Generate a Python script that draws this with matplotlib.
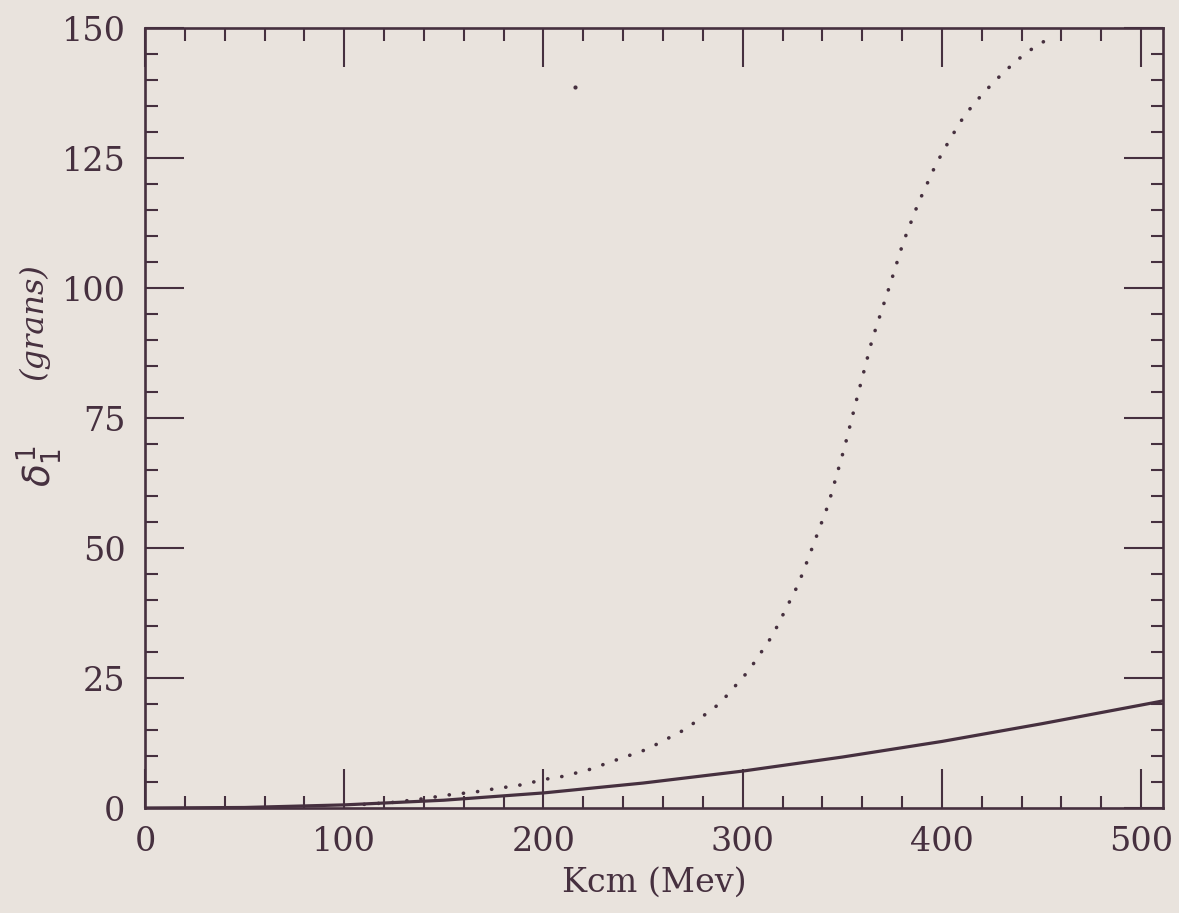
import matplotlib
matplotlib.use("Agg")
import matplotlib.pyplot as plt
from matplotlib.ticker import MultipleLocator

# ---- data ----
solid_x = [0, 50, 100, 150, 200, 250, 300, 350, 400, 450, 500, 511]
solid_y = [0.0, 0.1, 0.6, 1.5, 2.9, 4.8, 7.1, 9.8, 12.8, 16.2, 19.8, 20.6]

dot_x = [110, 125, 140, 152, 166, 174, 181, 188, 195, 202, 210, 216, 224, 231,
         252, 271.5, 288.5, 303, 315, 328, 333, 343, 351, 358, 365, 374,
         380.5, 388, 397, 404, 411.5, 421, 431, 442, 454]
dot_y = [0.7, 1.1, 1.8, 2.5, 3.1, 3.6, 4.0, 4.4, 5.0, 5.6, 6.1, 6.7, 7.5, 8.5,
         11.3, 15.2, 20.1, 26.4, 33.2, 43.1, 48.1, 58.4, 69.2, 79.8, 90.1, 100.7,
         108.7, 116.2, 123.8, 128.6, 133.3, 137.6, 141.5, 145.2, 148.1]

speck_x = [216]
speck_y = [138.7]

x_ticks = [0, 100, 200, 300, 400, 500]
y_ticks = [0, 25, 50, 75, 100, 125, 150]

BG = "#e9e3dd"
INK = "#46303f"

fig = plt.figure(figsize=(11.79, 9.13), dpi=100, facecolor=BG)
ax = fig.add_axes([0.123, 0.115, 0.8635, 0.8543])
ax.set_facecolor(BG)

ax.plot(solid_x, solid_y, color=INK, lw=2.3, solid_capstyle="butt")
ax.plot(dot_x, dot_y, color=INK, lw=2.6, linestyle=(0, (0.05, 3.9)),
        dash_capstyle="round")
ax.plot(speck_x, speck_y, "o", color=INK, ms=3, mec="none")

ax.set_xlim(0, 511)
ax.set_ylim(0, 150)
ax.set_xticks(x_ticks)
ax.set_yticks(y_ticks)
ax.xaxis.set_minor_locator(MultipleLocator(20))
ax.yaxis.set_minor_locator(MultipleLocator(5))

for s in ax.spines.values():
    s.set_color(INK)
    s.set_linewidth(1.9)

ax.tick_params(which="both", direction="in", top=True, right=True,
               color=INK, labelcolor=INK)
ax.tick_params(which="major", length=28, width=1.5, labelsize=24)
ax.tick_params(axis="x", which="major", pad=13)
ax.tick_params(axis="y", which="major", pad=14)
ax.tick_params(which="minor", length=9, width=1.5)

for lab in ax.get_xticklabels() + ax.get_yticklabels():
    lab.set_family("DejaVu Serif")

ax.set_xlabel("Kcm (Mev)", family="DejaVu Serif", fontsize=24, color=INK,
              labelpad=6)

fig.text(0.034, 0.489, r"$\delta_1^1$", rotation=90, fontsize=27, color=INK,
         ha="center", va="center", family="DejaVu Serif")
fig.text(0.029, 0.648, "(grans)", rotation=90, fontsize=23, color=INK,
         ha="center", va="center", family="DejaVu Serif", style="italic")

fig.savefig("out.png", dpi=100, facecolor=BG)
